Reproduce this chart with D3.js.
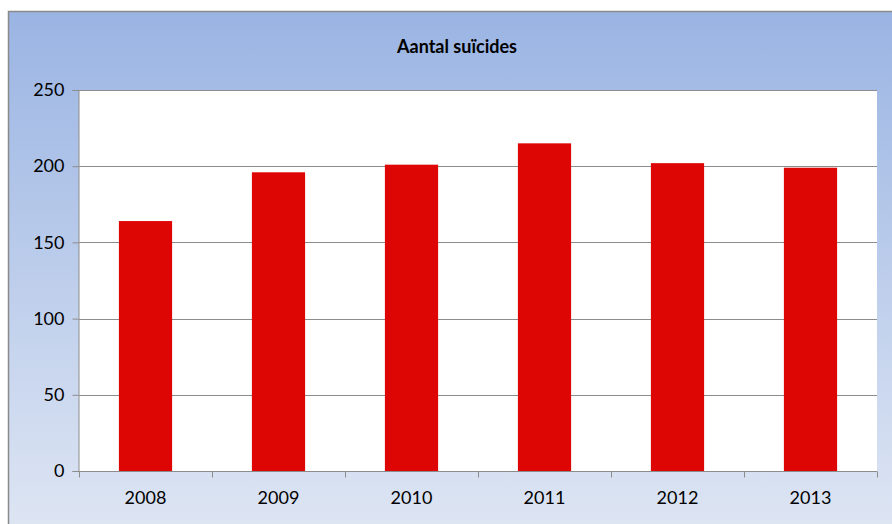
<!DOCTYPE html>
<html>
<head>
<meta charset="utf-8">
<script src="https://cdn.jsdelivr.net/npm/d3@7"></script>
<style>
  body { margin: 0; background: #ffffff; overflow: hidden; }
  svg { display: block; }
  text { font-family: Lato, "Open Sans", sans-serif; }
</style>
</head>
<body>
<div id="chart"></div>
<script>
var years = ["2008", "2009", "2010", "2011", "2012", "2013"]
var suicides = [164, 196, 201, 215, 202, 199]
var yTicks = [0, 50, 100, 150, 200, 250]

var outerWidth = 892, outerHeight = 524
var margin = { top: 90, right: 15, bottom: 53, left: 79 }
var innerWidth = 877 - margin.left
var innerHeight = 471 - margin.top

var svg = d3.select("#chart").append("svg")
    .attr("width", outerWidth)
    .attr("height", outerHeight)

// background gradient of the chart area
var grad = svg.append("defs").append("linearGradient")
    .attr("id", "bg").attr("x1", 0).attr("y1", 0).attr("x2", 0).attr("y2", 1)
grad.append("stop").attr("offset", "0%").attr("stop-color", "#9ab4e3")
grad.append("stop").attr("offset", "100%").attr("stop-color", "#dde5f3")

svg.append("rect")
    .attr("x", 8).attr("y", 11)
    .attr("width", outerWidth - 8).attr("height", outerHeight - 11)
    .attr("fill", "url(#bg)")
// chart border: only top and left edges are inside the picture
svg.append("path")
    .attr("d", "M8.5," + outerHeight + "V11.5H" + outerWidth)
    .attr("fill", "none")
    .attr("stroke", "#8a8a8a")
    .attr("stroke-width", 1.5)

svg.append("text")
    .attr("x", 457).attr("y", 53)
    .attr("text-anchor", "middle")
    .attr("font-size", "18px")
    .attr("font-weight", "bold")
    .attr("fill", "#000")
    .text("Aantal suïcides")

var plot = svg.append("g")
    .attr("transform", "translate(" + margin.left + "," + margin.top + ")")

plot.append("rect")
    .attr("width", innerWidth).attr("height", innerHeight)
    .attr("fill", "#ffffff")

var xScale = d3.scaleBand().domain(years).range([0, innerWidth]).paddingInner(0.6).paddingOuter(0.3)
var xTicks = d3.scaleLinear().domain([0, years.length]).range([0, innerWidth])
var yScale = d3.scaleLinear().domain([0, 250]).range([innerHeight, 0])

// gridlines
plot.selectAll(".grid").data(yTicks.slice(1))
    .enter().append("line")
    .attr("x1", 0).attr("x2", innerWidth)
    .attr("y1", d => Math.round(yScale(d)) + 0.5)
    .attr("y2", d => Math.round(yScale(d)) + 0.5)
    .attr("stroke", "#8c8c8c")
    .attr("stroke-width", 1)

plot.selectAll(".bar").data(suicides)
    .enter().append("rect")
    .attr("x", (d, i) => xScale(years[i]))
    .attr("y", d => yScale(d))
    .attr("width", xScale.bandwidth())
    .attr("height", d => innerHeight - yScale(d))
    .attr("fill", "#de0604")

// y axis
var yAxis = plot.append("g")
    .attr("transform", "translate(-0.5,0)")
    .call(d3.axisLeft(yScale).tickValues(yTicks).tickSize(6).tickPadding(8))
yAxis.select(".domain").attr("stroke", "#8c8c8c")
yAxis.selectAll(".tick line").attr("stroke", "#8c8c8c")
yAxis.selectAll(".tick text").attr("font-size", "18px").attr("fill", "#000")
    .style("font-family", "Lato, 'Open Sans', sans-serif")

// x axis with ticks between categories (labels drawn separately)
var xAxis = plot.append("g")
    .attr("transform", "translate(0," + (innerHeight + 0.5) + ")")
    .call(d3.axisBottom(xTicks).ticks(years.length).tickSize(6))
    .call(g => g.select(".domain").remove())
    .call(g => g.selectAll(".tick text").remove())
xAxis.selectAll(".tick line").attr("stroke", "#8c8c8c")
xAxis.append("line").attr("x1", 0).attr("x2", innerWidth).attr("stroke", "#8c8c8c")

plot.selectAll(".xlabel").data(years)
    .enter().append("text")
    .attr("x", d => xScale(d) + xScale.bandwidth() / 2)
    .attr("y", innerHeight + 33)
    .attr("text-anchor", "middle")
    .attr("font-size", "18px")
    .attr("fill", "#000")
    .text(d => d)
</script>
</body>
</html>
